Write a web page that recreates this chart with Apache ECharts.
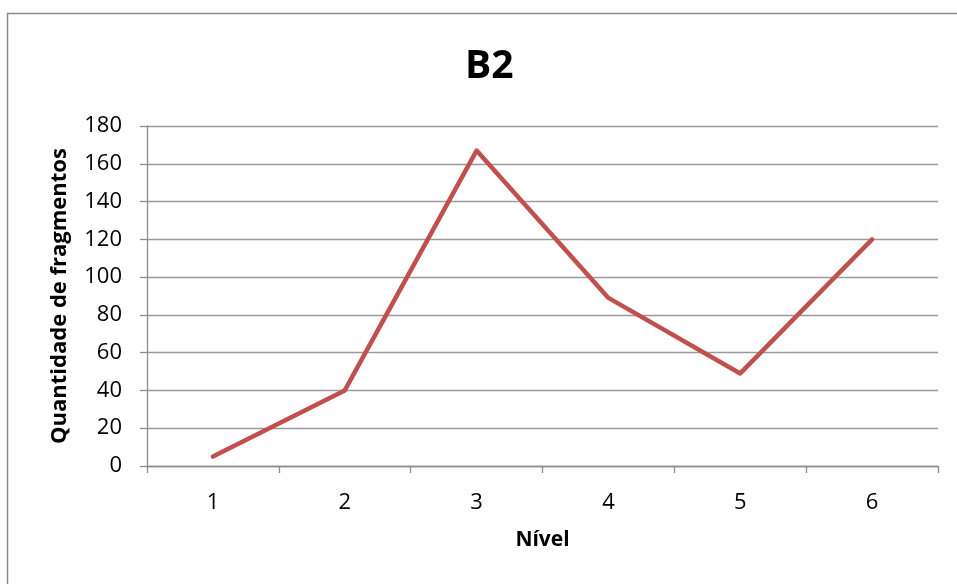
<!DOCTYPE html>
<html><head><meta charset="utf-8">
<script src="https://cdn.jsdelivr.net/npm/echarts@6/dist/echarts.min.js"></script>
<style>html,body{margin:0;padding:0;background:#fff}#c{width:957px;height:584px}</style>
</head><body><div id="c"></div>
<script>
const categories = ['1','2','3','4','5','6'];
const values = [5, 40, 167, 89, 49, 120];
const titleText = 'B2';
const xName = 'Nível';
const yName = 'Quantidade de fragmentos';

const chart = echarts.init(document.getElementById('c'));
const font = '"Open Sans", sans-serif';
chart.setOption({
  animation: false,
  backgroundColor: '#fff',
  graphic: [{type:'rect', shape:{x:7.5,y:13.5,width:1000,height:1000}, style:{fill:'none',stroke:'#8c8c8c',lineWidth:1.5}, silent:true}],
  title: {text: titleText, left: 460, top: 42, textStyle:{fontFamily: font, fontSize: 39, fontWeight:'bold', color:'#000'}},
  grid: {left: 147, right: 19, top: 126, bottom: 118},
  xAxis: {
    type:'category', data: categories, boundaryGap: true,
    name: xName, nameLocation:'middle', nameGap: 64,
    nameTextStyle:{fontFamily:font, fontSize:21, fontWeight:'bold', color:'#000'},
    axisLine:{lineStyle:{color:'#8c8c8c', width:1.3}},
    axisTick:{show:true, length:7, lineStyle:{color:'#8c8c8c', width:1.3}},
    axisLabel:{fontFamily:font, fontSize:22, color:'#000', margin:26}
  },
  yAxis: {
    type:'value', min:0, max:180, interval:20,
    name: yName, nameLocation:'middle', nameGap: 76,
    nameTextStyle:{fontFamily:font, fontSize:22, fontWeight:'bold', color:'#000'},
    axisLine:{show:true, lineStyle:{color:'#8c8c8c', width:1.3}},
    axisTick:{show:true, length:7, lineStyle:{color:'#8c8c8c', width:1.3}},
    axisLabel:{fontFamily:font, fontSize:22, color:'#000', margin:25},
    splitLine:{lineStyle:{color:'#9a9a9a', width:1.3}}
  },
  series: [{type:'line', data: values, symbol:'none', lineStyle:{color:'#C0504D', width:4.5, join:'round', cap:'round'}}]
});
</script></body></html>
